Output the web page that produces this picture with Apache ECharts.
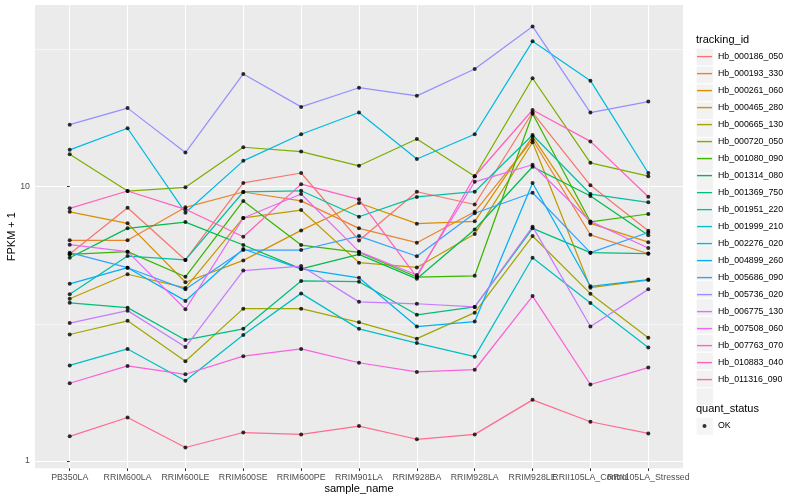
<!DOCTYPE html>
<html><head><meta charset="utf-8">
<script src="https://cdn.jsdelivr.net/npm/echarts@6/dist/echarts.min.js"></script>
<style>html,body{margin:0;padding:0;background:#fff}#c{width:800px;height:500px}</style>
</head><body><div id="c"></div>
<script>
const categories = ['PB350LA','RRIM600LA','RRIM600LE','RRIM600SE','RRIM600PE','RRIM901LA','RRIM928BA','RRIM928LA','RRIM928LE','RRII105LA_Control','RRII105LA_Stressed'];
const trackingIds = ['Hb_000186_050','Hb_000193_330','Hb_000261_060','Hb_000465_280','Hb_000665_130','Hb_000720_050','Hb_001080_090','Hb_001314_080','Hb_001369_750','Hb_001951_220','Hb_001999_210','Hb_002276_020','Hb_004899_260','Hb_005686_090','Hb_005736_020','Hb_006775_130','Hb_007508_060','Hb_007763_070','Hb_010883_040','Hb_011316_090'];
const colors = ['#F8766D','#EA8331','#D89000','#C09B00','#A3A500','#7CAE00','#39B600','#00BB4E','#00BF7D','#00C1A3','#00BFC4','#00BAE0','#00B0F6','#35A2FF','#9590FF','#C77CFF','#E76BF3','#FA62DB','#FF62BC','#FF6C91'];

const hb_000186_050 = [5.68, 8.37, 5.40, 10.3, 11.2, 6.36, 9.57, 8.60, 18.6, 10.1, 6.90];
const hb_000193_330 = [6.37, 6.37, 8.40, 9.55, 8.86, 7.04, 6.24, 8.09, 14.8, 6.67, 5.69];
const hb_000261_060 = [8.09, 7.34, 4.48, 5.38, 6.92, 8.71, 7.32, 7.47, 15.2, 7.34, 6.27];
const hb_000465_280 = [3.90, 4.79, 4.27, 7.68, 8.21, 5.28, 5.07, 6.71, 14.5, 4.28, 4.56];
const hb_000665_130 = [2.89, 3.24, 2.31, 3.59, 3.59, 3.20, 2.79, 3.47, 6.60, 4.07, 2.81];
const hb_000720_050 = [13.1, 9.63, 9.93, 13.9, 13.4, 11.9, 14.9, 10.9, 24.8, 12.2, 10.9];
const hb_001080_090 = [5.66, 5.79, 4.69, 8.86, 6.12, 5.76, 4.68, 4.73, 18.4, 7.44, 7.94];
const hb_001314_080 = [5.50, 7.04, 7.42, 6.12, 5.01, 5.66, 4.61, 6.97, 11.8, 9.23, 6.64];
const hb_001369_750 = [3.77, 3.62, 2.76, 3.03, 4.53, 4.50, 3.41, 3.64, 7.04, 5.74, 5.70];
const hb_001951_220 = [4.05, 5.58, 5.40, 9.55, 9.65, 7.76, 9.16, 9.57, 15.4, 9.39, 8.76];
const hb_001999_210 = [2.23, 2.56, 1.96, 2.88, 4.08, 3.03, 2.69, 2.40, 5.50, 3.76, 2.59];
const hb_002276_020 = [13.6, 16.3, 8.03, 12.4, 15.5, 18.6, 12.6, 15.5, 33.8, 24.3, 11.2];
const hb_004899_260 = [4.42, 5.06, 3.83, 5.92, 5.01, 4.65, 3.09, 3.22, 10.3, 4.33, 4.58];
const hb_005686_090 = [5.74, 5.06, 4.22, 5.87, 5.87, 6.60, 5.57, 7.99, 9.49, 5.74, 6.80];
const hb_005736_020 = [16.8, 19.3, 13.3, 25.7, 19.5, 22.9, 21.4, 26.8, 38.3, 18.6, 20.4];
const hb_006775_130 = [3.18, 3.53, 2.60, 4.94, 5.13, 3.80, 3.74, 3.64, 7.14, 3.09, 4.22];
const hb_007508_060 = [6.14, 5.79, 3.57, 7.68, 9.39, 5.79, 4.76, 10.4, 12.0, 7.46, 5.97];
const hb_007763_070 = [1.92, 2.22, 2.07, 2.41, 2.56, 2.28, 2.11, 2.15, 3.99, 1.90, 2.19];
const hb_010883_040 = [8.33, 9.63, 8.26, 6.56, 10.2, 8.98, 4.68, 10.9, 19.0, 14.6, 9.18];
const hb_011316_090 = [1.23, 1.44, 1.12, 1.27, 1.25, 1.34, 1.20, 1.25, 1.67, 1.39, 1.26];

const seriesValues = [hb_000186_050, hb_000193_330, hb_000261_060, hb_000465_280, hb_000665_130, hb_000720_050, hb_001080_090, hb_001314_080, hb_001369_750, hb_001951_220, hb_001999_210, hb_002276_020, hb_004899_260, hb_005686_090, hb_005736_020, hb_006775_130, hb_007508_060, hb_007763_070, hb_010883_040, hb_011316_090];
const yTickValues = [1, 10];
const yMinorValues = [3.1623, 31.623];
const statusName = 'OK';

const FONT = "'Liberation Sans', Arial, Helvetica, sans-serif";
const catIdx = categories.map((c, i) => i);
// labels split over two identical axes so that the overlapping neighbours are all drawn, as in the reference
const labelsA = catIdx.filter(i => i % 2 === 0);
const labelsB = catIdx.filter(i => i % 2 === 1);

const lineSeries = trackingIds.map((id, i) => ({
  name: id, type: 'line', symbol: 'none', silent: true, z: 2, xAxisIndex: 0,
  data: seriesValues[i].map((v, j) => [j, v]),
  lineStyle: { color: colors[i], width: 1.25 },
  itemStyle: { color: colors[i] }
}));
const pointData = [];
seriesValues.forEach(arr => arr.forEach((v, j) => pointData.push([j, v])));
const pointSeries = {
  name: statusName, type: 'scatter', symbol: 'circle', symbolSize: 4, z: 4, silent: true, xAxisIndex: 0,
  data: pointData, itemStyle: { color: '#000' },
  markLine: {
    silent: true, symbol: 'none', z: 1, animation: false,
    label: { show: false },
    lineStyle: { color: '#FFFFFF', width: 0.55, type: 'solid' },
    data: yMinorValues.map(v => ({ yAxis: v }))
  }
};

const keyBg = { color: '#F2F2F2', borderColor: '#FFFFFF', borderWidth: 0.6 };
const lineIcon = 'path://M0,0M17,17M1,7.8H16V9.2H1Z';
const dotIcon = 'path://M0,0M17,17M6.5,8.5A2,2 0 1,0 10.5,8.5A2,2 0 1,0 6.5,8.5Z';
const catLabel = v => { const k = Math.round(v); return Math.abs(v - k) < 1e-6 && categories[k] ? categories[k] : ''; };
const xLabelStyle = { fontSize: 8.8, color: '#4D4D4D', margin: 5, fontFamily: FONT, showMinLabel: true, showMaxLabel: true, hideOverlap: false, formatter: catLabel };

const chart = echarts.init(document.getElementById('c'), null, { renderer: 'canvas' });
chart.setOption({
  animation: false,
  backgroundColor: '#FFFFFF',
  textStyle: { fontFamily: FONT },
  title: [
    { text: 'tracking_id', left: 696, top: 34, padding: 0, textStyle: { fontSize: 11, fontWeight: 'normal', color: '#000', fontFamily: FONT } },
    { text: 'quant_status', left: 696, top: 403, padding: 0, textStyle: { fontSize: 11, fontWeight: 'normal', color: '#000', fontFamily: FONT } }
  ],
  legend: [
    { orient: 'vertical', left: 696, top: 48.1, padding: 0, itemWidth: 17, itemHeight: 17.28, itemGap: 0, icon: 'rect', data: trackingIds, formatter: () => '', itemStyle: keyBg, selectedMode: false, z: 1, textStyle: { fontSize: 8 } },
    { orient: 'vertical', left: 696, top: 48.1, padding: 0, itemWidth: 17, itemHeight: 17.28, itemGap: 0, icon: lineIcon, data: trackingIds, itemStyle: { borderWidth: 0 }, selectedMode: false, z: 3, textStyle: { fontSize: 8.8, color: '#000', fontFamily: FONT } },
    { orient: 'vertical', left: 696, top: 417.4, padding: 0, itemWidth: 17, itemHeight: 17.28, itemGap: 0, icon: 'rect', data: [statusName], formatter: () => '', itemStyle: keyBg, selectedMode: false, z: 1, textStyle: { fontSize: 8 } },
    { orient: 'vertical', left: 696, top: 417.4, padding: 0, itemWidth: 17, itemHeight: 17.28, itemGap: 0, icon: dotIcon, data: [statusName], itemStyle: { borderWidth: 0 }, selectedMode: false, z: 3, textStyle: { fontSize: 8.8, color: '#000', fontFamily: FONT } }
  ],
  grid: { left: 35, right: 117, top: 5, bottom: 31.7, show: true, backgroundColor: '#EBEBEB', borderWidth: 0, outerBoundsMode: 'none' },
  xAxis: [{
    type: 'value', min: -0.6, max: 10.6, minInterval: 1, maxInterval: 1, position: 'bottom',
    axisLine: { show: false },
    axisTick: { show: true, length: 2.75, lineStyle: { color: '#333333', width: 1 }, customValues: catIdx },
    axisLabel: Object.assign({ customValues: labelsA }, xLabelStyle),
    splitLine: { show: true, lineStyle: { color: '#FFFFFF', width: 1.07 } },
    name: 'sample_name', nameLocation: 'middle', nameGap: 15, nameMoveOverlap: false,
    nameTextStyle: { fontSize: 11, color: '#000', fontFamily: FONT }
  }, {
    type: 'value', min: -0.6, max: 10.6, minInterval: 1, maxInterval: 1, position: 'bottom', offset: 0,
    axisLine: { show: false }, axisTick: { show: false }, splitLine: { show: false },
    axisLabel: Object.assign({ customValues: labelsB }, xLabelStyle)
  }],
  yAxis: {
    type: 'log', logBase: 10, min: 0.9406, max: 45.84,
    axisLine: { show: false },
    axisTick: { show: true, length: 2.75, lineStyle: { color: '#333333', width: 1 }, customValues: yTickValues },
    axisLabel: { customValues: yTickValues, showMinLabel: true, showMaxLabel: true, formatter: v => String(Math.round(v)), fontSize: 8.8, color: '#4D4D4D', margin: 5, fontFamily: FONT },
    splitLine: { show: true, lineStyle: { color: '#FFFFFF', width: 1.07 } },
    name: 'FPKM + 1', nameLocation: 'middle', nameGap: 18, nameMoveOverlap: false,
    nameTextStyle: { fontSize: 11, color: '#000', fontFamily: FONT }
  },
  series: [...lineSeries, pointSeries]
});
</script></body></html>
